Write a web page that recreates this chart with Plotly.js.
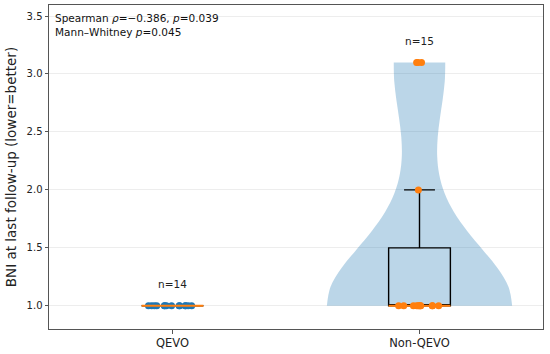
<!DOCTYPE html>
<html>
<head>
<meta charset="utf-8">
<script src="https://cdn.plot.ly/plotly-3.0.1.min.js"></script>
<style>html,body{margin:0;padding:0;background:#fff;}#chart{width:550px;height:354px;}</style>
</head>
<body>
<div id="chart"></div>
<script>
// ---- data ----
const categories = ["QEVO", "Non-QEVO"];
const qevoBNI = [1,1,1,1,1,1,1,1,1,1,1,1,1,1];
const nonQevoBNI = [1,1,1,1,1,1,1,1,1,1,1,2.0,3.1,3.1,3.1];
const statsLines = ["Spearman <i>ρ</i>=−0.386, <i>p</i>=0.039", "Mann–Whitney <i>p</i>=0.045"];
const yTickVals = [1.0, 1.5, 2.0, 2.5, 3.0, 3.5];
const yTickText = ["1.0", "1.5", "2.0", "2.5", "3.0", "3.5"];

// ---- styles ----
const C0 = "#1f77b4", C1 = "#ff7f0e";
const BOX_W = 0.25;
const FONT = "DejaVu Sans, sans-serif";

const groups = [qevoBNI, nonQevoBNI];
const pointColors = [C0, C1];

function median(a){ const s=[...a].sort((x,y)=>x-y); const n=s.length; return n%2? s[(n-1)/2] : (s[n/2-1]+s[n/2])/2; }

const traces = [];
// violin for non-QEVO (QEVO is degenerate: all values equal)
traces.push({
  type: "violin",
  x: nonQevoBNI.map(()=>1),
  y: nonQevoBNI,
  width: 0.75,
  bandwidth: 0.508,
  spanmode: "hard",
  fillcolor: "rgba(31,119,180,0.3)",
  line: {width: 0, color: "rgba(0,0,0,0)"},
  points: false,
  box: {visible: false},
  meanline: {visible: false},
  hoverinfo: "skip",
  showlegend: false
});
groups.forEach((g, i) => {
  traces.push({
    type: "box",
    x: g.map(()=>i),
    y: g,
    width: BOX_W,
    whiskerwidth: 0.5,
    quartilemethod: "inclusive",
    boxpoints: "all",
    jitter: 0.8,
    pointpos: 0,
    fillcolor: "rgba(0,0,0,0)",
    line: {color: "#000", width: 1.4},
    marker: {color: pointColors[i], size: 7, line: {width: 0}},
    hoverinfo: "skip",
    showlegend: false
  });
});
// orange median lines
groups.forEach((g, i) => {
  const m = median(g);
  traces.push({
    type: "scatter", mode: "lines",
    x: [i - BOX_W/2, i + BOX_W/2], y: [m, m],
    line: {color: C1, width: 2},
    hoverinfo: "skip", showlegend: false
  });
});

const annotations = [];
groups.forEach((g, i) => {
  annotations.push({
    x: i, y: Math.max(...g) + 0.185, xref: "x", yref: "y",
    text: "n=" + g.length, showarrow: false,
    font: {family: FONT, size: 10.5, color: "#222"},
    xanchor: "center", yanchor: "middle"
  });
});
annotations.push({
  xref: "paper", yref: "paper", x: 0.008, y: 0.985,
  xanchor: "left", yanchor: "top", align: "left",
  text: statsLines.join("<br>"), showarrow: false,
  font: {family: FONT, size: 10.5, color: "#111"}
});

const layout = {
  width: 550, height: 354,
  margin: {l: 49, r: 7, t: 5, b: 25},
  paper_bgcolor: "#fff", plot_bgcolor: "#fff",
  showlegend: false,
  boxmode: "overlay", violinmode: "overlay",
  font: {family: FONT, size: 10, color: "#222"},
  xaxis: {
    range: [-0.5, 1.5], tickvals: [0, 1], ticktext: categories,
    showgrid: false, zeroline: false,
    showline: true, mirror: true, linecolor: "#555", linewidth: 1,
    ticks: "outside", ticklen: 3.5, tickcolor: "#555",
    tickfont: {family: FONT, size: 11.5, color: "#222"}
  },
  yaxis: {
    range: [0.80, 3.595], tickvals: yTickVals, ticktext: yTickText,
    showgrid: true, gridcolor: "rgba(0,0,0,0.07)", gridwidth: 1, zeroline: false,
    showline: true, mirror: true, linecolor: "#555", linewidth: 1,
    ticks: "outside", ticklen: 3.5, tickcolor: "#555",
    tickfont: {family: FONT, size: 10, color: "#222"},
    title: {text: "BNI at last follow-up (lower=better)", font: {family: FONT, size: 13.5, color: "#222"}, standoff: 6}
  },
  annotations: annotations
};

Plotly.newPlot("chart", traces, layout, {staticPlot: true, displayModeBar: false});
</script>
</body>
</html>
